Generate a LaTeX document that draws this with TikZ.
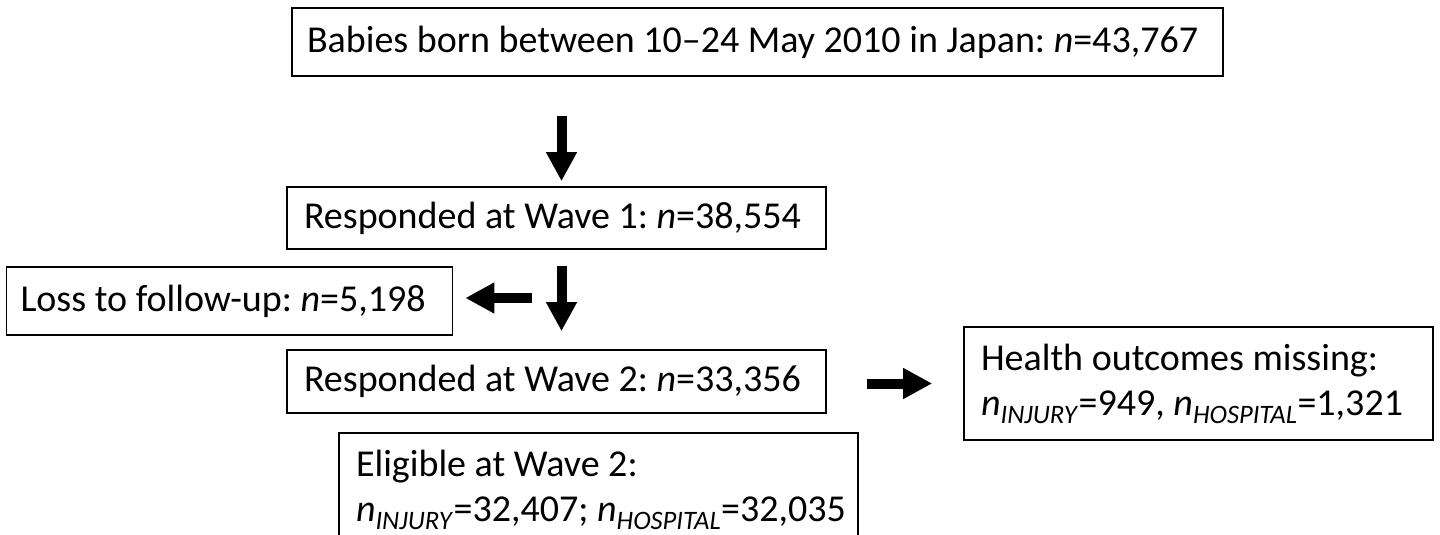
\documentclass[tikz,border=0pt]{standalone}
\usepackage{fontspec}
\setmainfont{Carlito}
\usetikzlibrary{arrows.meta}
\frenchspacing
\tikzset{
  flowbox/.style={draw, line width=1.6pt, inner xsep=17pt, inner ysep=0pt,
    font=\fontsize{38}{45}\selectfont, anchor=center},
  blockarrow/.style={line width=10pt, -{Triangle[width=29pt,length=29pt]}},
}
\newcommand{\nit}{\textit{n}}
\newcommand{\boxline}[2]{\makebox[#1][l]{#2}}
\newcommand{\twolines}[3]{\makebox[#1][l]{\begin{tabular}{@{}l@{}}#2\\#3\end{tabular}}}
\begin{document}
\begin{tikzpicture}[x=1pt,y=-1pt]
\useasboundingbox (0,0) rectangle (1440,535);
\node[flowbox, inner xsep=15pt, minimum height=68pt] (top) at (757.5,42)
  {\boxline{901pt}{Babies born between 10–24 May 2010 in Japan: \nit=43,767}};
\node[flowbox, minimum height=62pt] (w1) at (556.5,218)
  {\boxline{505pt}{Responded at Wave 1: \nit=38,554}};
\node[flowbox, inner xsep=14pt, minimum height=68pt] (loss) at (229.5,301)
  {\boxline{418pt}{Loss to follow-up: \nit=5,198}};
\node[flowbox, minimum height=63pt] (w2) at (556.5,381.5)
  {\boxline{505pt}{Responded at Wave 2: \nit=33,356}};
\node[flowbox, minimum height=113pt] (health) at (1198.5,383.5)
  {\twolines{435pt}{Health outcomes missing:}{\nit\textsubscript{\textit{INJURY}}=949, \nit\textsubscript{\textit{HOSPITAL}}=1,321}};
\node[flowbox, minimum height=113pt] (elig) at (598.5,489.5)
  {\twolines{485pt}{Eligible at Wave 2:}{\nit\textsubscript{\textit{INJURY}}=32,407; \nit\textsubscript{\textit{HOSPITAL}}=32,035}};
\coordinate (ax) at (561.5,0);
\coordinate (lstart) at (532,298);
\draw[blockarrow, shorten <=39pt, shorten >=5pt] (top.south -| ax) -- (w1.north -| ax);
\draw[blockarrow, shorten <=16pt, shorten >=18pt] (w1.south -| ax) -- (w2.north -| ax);
\draw[blockarrow, shorten >=12pt] (lstart) -- (loss.east |- lstart);
\draw[blockarrow, shorten <=40pt, shorten >=31pt] (w2.east |- health.west) -- (health.west);
\end{tikzpicture}
\end{document}
